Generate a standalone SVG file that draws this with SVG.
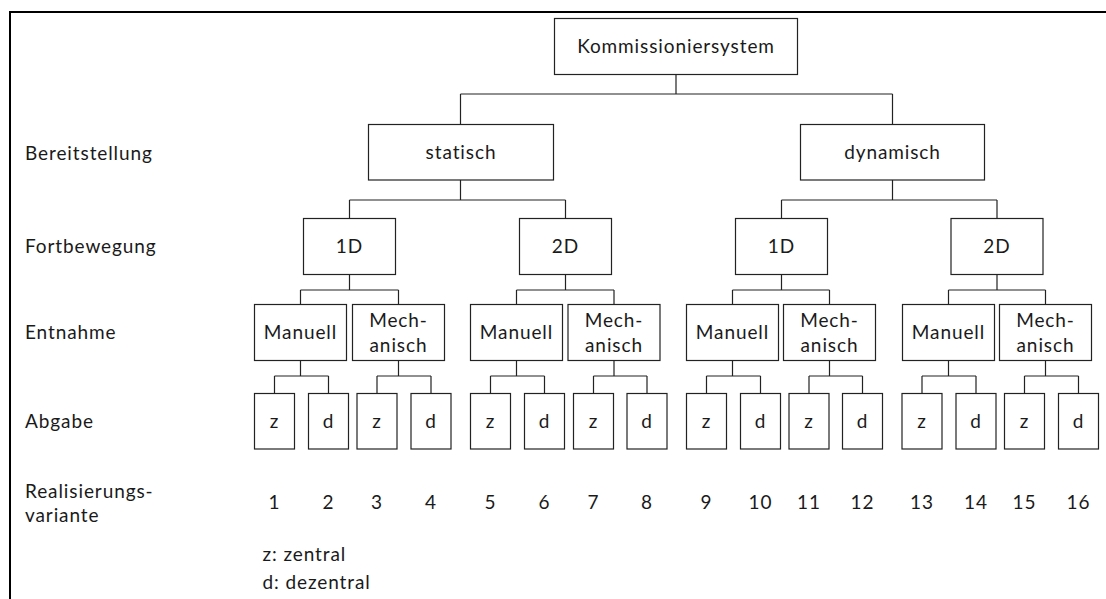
<svg xmlns="http://www.w3.org/2000/svg" width="1106" height="599" viewBox="0 0 1106 599">
  <style>
    .box { fill: #ffffff; stroke: #222222; stroke-width: 1.2; }
    .lbl { font-family: Lato, "Open Sans", sans-serif; font-size: 19px; fill: #1a1a1a; letter-spacing: 0.9px; }
    .c { text-anchor: middle; }
    .wire { fill: none; stroke: #222222; stroke-width: 1.2; }
  </style>

  <rect x="0" y="0" width="1106" height="599" fill="#ffffff"/>
  <!-- outer frame (only left and top edges fall inside the canvas) -->
  <path d="M10,599 V12 H1106" fill="none" stroke="#000000" stroke-width="2"/>

  <!-- level captions -->
  <g id="captions" class="lbl">
    <text x="25" y="160">Bereitstellung</text>
    <text x="25" y="253">Fortbewegung</text>
    <text x="25" y="339">Entnahme</text>
    <text x="25" y="428">Abgabe</text>
    <text x="25" y="498">Realisierungs-</text>
    <text x="25" y="522">variante</text>
  </g>

  <!-- connectors -->
  <g id="connectors" class="wire">
    <path d="M676,74.5 V94 M460.5,94 H892.5 M460.5,94 V124.5 M892.5,94 V124.5"/>
    <path d="M460.5,180 V200 M349.5,200 H565.5 M349.5,200 V218.5 M565.5,200 V218.5"/>
    <path d="M892.5,180 V200 M781.5,200 H997 M781.5,200 V218.5 M997,200 V218.5"/>
    <path d="M349.5,274.5 V290 M300.5,290 H398.5 M300.5,290 V304.5 M398.5,290 V304.5"/>
    <path d="M565.5,274.5 V290 M516.5,290 H614 M516.5,290 V304.5 M614,290 V304.5"/>
    <path d="M781.5,274.5 V290 M732.5,290 H829.5 M732.5,290 V304.5 M829.5,290 V304.5"/>
    <path d="M997,274.5 V290 M948.5,290 H1045.5 M948.5,290 V304.5 M1045.5,290 V304.5"/>
    <path d="M300.5,360.5 V376 M274.5,376 H328.5 M274.5,376 V393.5 M328.5,376 V393.5"/>
    <path d="M398.5,360.5 V376 M377,376 H431 M377,376 V393.5 M431,376 V393.5"/>
    <path d="M516.5,360.5 V376 M490.5,376 H544.5 M490.5,376 V393.5 M544.5,376 V393.5"/>
    <path d="M614,360.5 V376 M593.5,376 H647 M593.5,376 V393.5 M647,376 V393.5"/>
    <path d="M732.5,360.5 V376 M706.5,376 H760.5 M706.5,376 V393.5 M760.5,376 V393.5"/>
    <path d="M829.5,360.5 V376 M809,376 H862.5 M809,376 V393.5 M862.5,376 V393.5"/>
    <path d="M948.5,360.5 V376 M922,376 H976 M922,376 V393.5 M976,376 V393.5"/>
    <path d="M1045.5,360.5 V376 M1024.5,376 H1078.5 M1024.5,376 V393.5 M1078.5,376 V393.5"/>
  </g>

  <!-- root -->
  <g id="n-root">
    <rect class="box" x="554.5" y="18.5" width="243" height="56"/>
    <text class="lbl c" x="676" y="53">Kommissioniersystem</text>
  </g>

  <!-- Bereitstellung -->
  <g id="n-statisch">
    <rect class="box" x="368.5" y="124.5" width="185" height="55.5"/>
    <text class="lbl c" x="461" y="159">statisch</text>
  </g>
  <g id="n-dynamisch">
    <rect class="box" x="800.5" y="124.5" width="184" height="55.5"/>
    <text class="lbl c" x="892.5" y="159">dynamisch</text>
  </g>

  <!-- Fortbewegung -->
  <g id="n-s1d">
    <rect class="box" x="303.5" y="218.5" width="92" height="56"/>
    <text class="lbl c" x="349.5" y="253">1D</text>
  </g>
  <g id="n-s2d">
    <rect class="box" x="519.5" y="218.5" width="92" height="56"/>
    <text class="lbl c" x="565.5" y="253">2D</text>
  </g>
  <g id="n-d1d">
    <rect class="box" x="735.5" y="218.5" width="92" height="56"/>
    <text class="lbl c" x="781.5" y="253">1D</text>
  </g>
  <g id="n-d2d">
    <rect class="box" x="951" y="218.5" width="92" height="56"/>
    <text class="lbl c" x="997" y="253">2D</text>
  </g>

  <!-- Entnahme -->
  <g id="n-s1d-man">
    <rect class="box" x="254.5" y="304.5" width="92" height="56"/>
    <text class="lbl c" x="300.5" y="339">Manuell</text>
  </g>
  <g id="n-s1d-mech">
    <rect class="box" x="352.5" y="304.5" width="92" height="56"/>
    <text class="lbl c" x="398.5" y="327">Mech-</text>
    <text class="lbl c" x="398.5" y="352">anisch</text>
  </g>
  <g id="n-s2d-man">
    <rect class="box" x="470.5" y="304.5" width="92" height="56"/>
    <text class="lbl c" x="516.5" y="339">Manuell</text>
  </g>
  <g id="n-s2d-mech">
    <rect class="box" x="568" y="304.5" width="92" height="56"/>
    <text class="lbl c" x="614" y="327">Mech-</text>
    <text class="lbl c" x="614" y="352">anisch</text>
  </g>
  <g id="n-d1d-man">
    <rect class="box" x="686.5" y="304.5" width="92" height="56"/>
    <text class="lbl c" x="732.5" y="339">Manuell</text>
  </g>
  <g id="n-d1d-mech">
    <rect class="box" x="783.5" y="304.5" width="92" height="56"/>
    <text class="lbl c" x="829.5" y="327">Mech-</text>
    <text class="lbl c" x="829.5" y="352">anisch</text>
  </g>
  <g id="n-d2d-man">
    <rect class="box" x="902.5" y="304.5" width="92" height="56"/>
    <text class="lbl c" x="948.5" y="339">Manuell</text>
  </g>
  <g id="n-d2d-mech">
    <rect class="box" x="999.5" y="304.5" width="92" height="56"/>
    <text class="lbl c" x="1045.5" y="327">Mech-</text>
    <text class="lbl c" x="1045.5" y="352">anisch</text>
  </g>

  <!-- Abgabe -->
  <g id="n-v1"><rect class="box" x="254.5" y="393.5" width="40" height="55.5"/><text class="lbl c" x="274.5" y="428">z</text></g>
  <g id="n-v2"><rect class="box" x="308.5" y="393.5" width="40" height="55.5"/><text class="lbl c" x="328.5" y="428">d</text></g>
  <g id="n-v3"><rect class="box" x="357" y="393.5" width="40" height="55.5"/><text class="lbl c" x="377" y="428">z</text></g>
  <g id="n-v4"><rect class="box" x="411" y="393.5" width="40" height="55.5"/><text class="lbl c" x="431" y="428">d</text></g>
  <g id="n-v5"><rect class="box" x="470.5" y="393.5" width="40" height="55.5"/><text class="lbl c" x="490.5" y="428">z</text></g>
  <g id="n-v6"><rect class="box" x="524.5" y="393.5" width="40" height="55.5"/><text class="lbl c" x="544.5" y="428">d</text></g>
  <g id="n-v7"><rect class="box" x="573.5" y="393.5" width="40" height="55.5"/><text class="lbl c" x="593.5" y="428">z</text></g>
  <g id="n-v8"><rect class="box" x="627" y="393.5" width="40" height="55.5"/><text class="lbl c" x="647" y="428">d</text></g>
  <g id="n-v9"><rect class="box" x="686.5" y="393.5" width="40" height="55.5"/><text class="lbl c" x="706.5" y="428">z</text></g>
  <g id="n-v10"><rect class="box" x="740.5" y="393.5" width="40" height="55.5"/><text class="lbl c" x="760.5" y="428">d</text></g>
  <g id="n-v11"><rect class="box" x="789" y="393.5" width="40" height="55.5"/><text class="lbl c" x="809" y="428">z</text></g>
  <g id="n-v12"><rect class="box" x="842.5" y="393.5" width="40" height="55.5"/><text class="lbl c" x="862.5" y="428">d</text></g>
  <g id="n-v13"><rect class="box" x="902" y="393.5" width="40" height="55.5"/><text class="lbl c" x="922" y="428">z</text></g>
  <g id="n-v14"><rect class="box" x="956" y="393.5" width="40" height="55.5"/><text class="lbl c" x="976" y="428">d</text></g>
  <g id="n-v15"><rect class="box" x="1004.5" y="393.5" width="40" height="55.5"/><text class="lbl c" x="1024.5" y="428">z</text></g>
  <g id="n-v16"><rect class="box" x="1058.5" y="393.5" width="40" height="55.5"/><text class="lbl c" x="1078.5" y="428">d</text></g>

  <!-- Realisierungsvariante numbers -->
  <g id="numbers" class="lbl c">
    <text x="274.5" y="509">1</text>
    <text x="328.5" y="509">2</text>
    <text x="377" y="509">3</text>
    <text x="431" y="509">4</text>
    <text x="490.5" y="509">5</text>
    <text x="544.5" y="509">6</text>
    <text x="593.5" y="509">7</text>
    <text x="647" y="509">8</text>
    <text x="706.5" y="509">9</text>
    <text x="760.5" y="509">10</text>
    <text x="809" y="509">11</text>
    <text x="862.5" y="509">12</text>
    <text x="922" y="509">13</text>
    <text x="976" y="509">14</text>
    <text x="1024.5" y="509">15</text>
    <text x="1078.5" y="509">16</text>
  </g>

  <!-- legend -->
  <g id="legend" class="lbl">
    <text x="262.5" y="561">z: zentral</text>
    <text x="262.5" y="589">d: dezentral</text>
  </g>
</svg>
